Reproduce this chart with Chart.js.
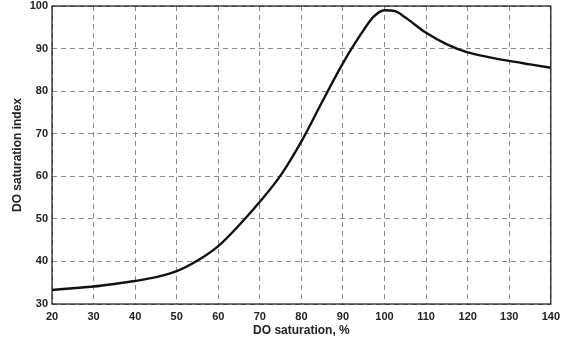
<!DOCTYPE html>
<html lang="en">
<head>
    <meta charset="UTF-8">
    <title>DO saturation index</title>
    <script src="https://cdn.jsdelivr.net/npm/chart.js"></script>
    <style>
        body { margin: 0; background: #ffffff; }
        #wrap { width: 566px; height: 338px; }
    </style>
</head>
<body>
    <div id="wrap"><canvas id="doChart" width="566" height="338"></canvas></div>

    <script>
        // DO saturation (%) and index
        const saturation = [20, 25, 30, 35, 40, 45, 50, 55, 60, 65, 70, 75, 80, 85, 90, 95, 97.5, 100, 102.5, 105, 110, 115, 120, 125, 130, 135, 140];
        const doIndex = [33.3, 33.7, 34.1, 34.7, 35.4, 36.3, 37.7, 40.2, 43.6, 48.5, 54.0, 60.2, 68.2, 77.5, 86.6, 94.4, 97.6, 99.0, 98.8, 97.3, 93.7, 91.0, 89.1, 88.0, 87.1, 86.3, 85.5];
        const xTicks = [20, 30, 40, 50, 60, 70, 80, 90, 100, 110, 120, 130, 140];
        const yTicks = [30, 40, 50, 60, 70, 80, 90, 100];

        const tickFont = { family: 'Liberation Sans, Arial, sans-serif', size: 11, weight: 'bold' };
        const titleFont = { family: 'Liberation Sans, Arial, sans-serif', size: 12, weight: 'bold' };

        // solid frame round the plot area
        const frame = {
            id: 'frame',
            afterDraw(chart) {
                const a = chart.chartArea, ctx = chart.ctx;
                ctx.save();
                ctx.strokeStyle = '#111';
                ctx.lineWidth = 1.2;
                ctx.setLineDash([]);
                ctx.strokeRect(a.left, a.top, a.right - a.left, a.bottom - a.top);
                ctx.restore();
            }
        };

        new Chart(document.getElementById('doChart'), {
            type: 'line',
            data: {
                datasets: [{
                    data: saturation.map((x, i) => ({ x: x, y: doIndex[i] })),
                    borderColor: '#111',
                    borderWidth: 2.4,
                    pointRadius: 0,
                    cubicInterpolationMode: 'monotone',
                    fill: false
                }]
            },
            options: {
                responsive: false,
                animation: false,
                layout: { padding: { top: 6, right: 14, left: 0, bottom: 0 } },
                plugins: { legend: { display: false }, tooltip: { enabled: false } },
                scales: {
                    x: {
                        type: 'linear',
                        min: 20, max: 140,
                        afterBuildTicks: s => { s.ticks = xTicks.map(v => ({ value: v })); },
                        afterFit: s => { s.height = 34; },
                        grid: { color: '#8a8a8a', lineWidth: 1, drawTicks: false },
                        border: { display: false, dash: [5, 4] },
                        ticks: { color: '#222', font: tickFont, padding: 6, maxRotation: 0 },
                        title: { display: true, text: 'DO saturation, %', color: '#222', font: titleFont, padding: { top: 1, bottom: 0 } }
                    },
                    y: {
                        min: 30, max: 100,
                        afterBuildTicks: s => { s.ticks = yTicks.map(v => ({ value: v })); },
                        afterFit: s => { s.width = 52; s.paddingTop = 0; s.paddingBottom = 0; },
                        grid: { color: '#8a8a8a', lineWidth: 1, drawTicks: false },
                        border: { display: false, dash: [5, 4] },
                        ticks: { color: '#222', font: tickFont, padding: 4 },
                        title: { display: true, text: 'DO saturation index', color: '#222', font: titleFont, padding: { top: 10, bottom: 0 } }
                    }
                }
            },
            plugins: [frame]
        });
    </script>
</body>
</html>
